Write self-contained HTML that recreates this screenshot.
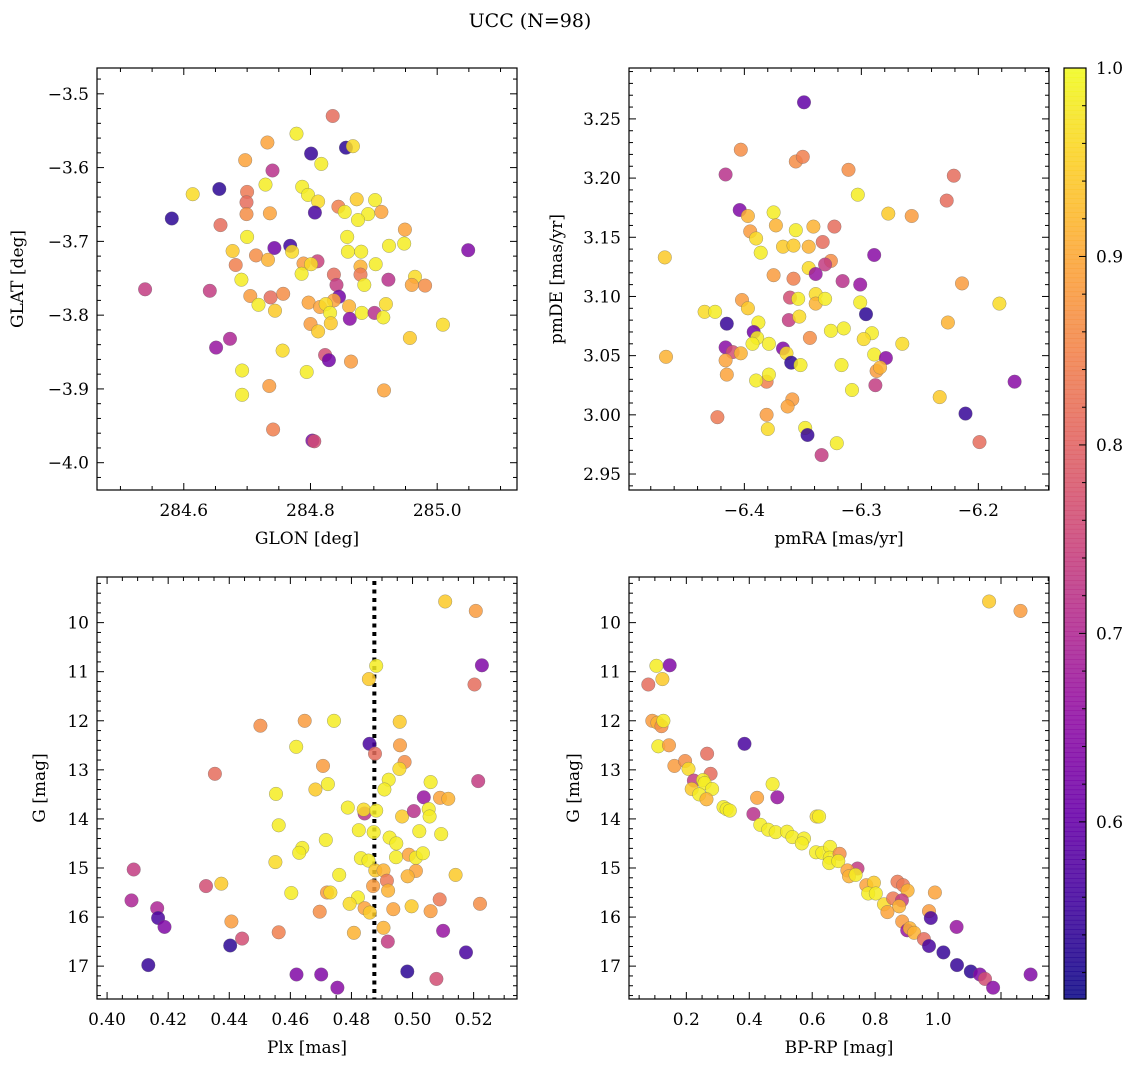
<!DOCTYPE html>
<html><head><meta charset="utf-8"><style>
html,body{margin:0;padding:0;background:#fff;}
svg{display:block;font-family:"DejaVu Serif","Liberation Serif",serif;}
</style></head><body>
<svg id="fig" width="1136" height="1067" viewBox="0 0 1136 1067" xmlns="http://www.w3.org/2000/svg">
<text x="530" y="27" text-anchor="middle" font-size="19">UCC (N=98)</text>
</svg>
<script>
// ---- Panel 1: GLON / GLAT ----
const glonVals=[284.835,284.778,284.732,284.856,284.867,284.801,284.817,284.697,284.740,284.729,284.656,284.614,284.700,284.787,284.796,284.812,284.699,284.699,284.736,284.807,284.844,284.854,284.873,284.902,284.891,284.875,284.912,284.581,284.658,284.949,284.700,284.858,284.924,284.948,285.049,284.743,284.768,284.771,284.677,284.714,284.733,284.859,284.880,284.682,284.789,284.811,284.801,284.786,284.879,284.903,284.879,284.837,284.841,284.885,284.923,284.965,284.960,284.981,284.539,284.641,284.691,284.705,284.718,284.737,284.757,284.744,284.845,284.837,284.797,284.815,284.824,284.831,284.861,284.862,284.881,284.901,284.919,284.915,284.800,284.812,284.832,285.009,284.957,284.673,284.651,284.756,284.823,284.829,284.864,284.794,284.692,284.735,284.916,284.692,284.741,284.803,284.806];
const glatVals=[-3.530,-3.554,-3.566,-3.573,-3.571,-3.581,-3.595,-3.590,-3.604,-3.623,-3.629,-3.636,-3.633,-3.626,-3.637,-3.646,-3.647,-3.663,-3.662,-3.661,-3.653,-3.660,-3.643,-3.644,-3.663,-3.671,-3.660,-3.669,-3.678,-3.684,-3.694,-3.694,-3.706,-3.703,-3.712,-3.709,-3.706,-3.714,-3.713,-3.719,-3.725,-3.714,-3.714,-3.732,-3.730,-3.727,-3.731,-3.744,-3.734,-3.731,-3.745,-3.745,-3.759,-3.759,-3.752,-3.748,-3.759,-3.760,-3.765,-3.767,-3.752,-3.774,-3.786,-3.776,-3.771,-3.794,-3.775,-3.780,-3.783,-3.789,-3.785,-3.797,-3.788,-3.805,-3.797,-3.797,-3.785,-3.803,-3.812,-3.822,-3.811,-3.813,-3.831,-3.832,-3.844,-3.848,-3.854,-3.861,-3.863,-3.877,-3.875,-3.896,-3.902,-3.908,-3.955,-3.970,-3.971];
const probP1=[.80,.97,.88,.52,.95,.53,.97,.88,.70,.97,.52,.95,.82,.97,.97,.95,.80,.85,.88,.55,.83,.97,.93,.97,.97,.97,.88,.52,.80,.88,.97,.97,.97,.97,.62,.60,.54,.95,.93,.85,.90,.97,.97,.83,.87,.73,.95,.97,.90,.97,.82,.80,.72,.97,.70,.95,.88,.85,.72,.72,.97,.87,.97,.80,.85,.93,.60,.88,.88,.88,.95,.97,.90,.63,.97,.70,.95,.97,.87,.93,.93,.95,.93,.68,.65,.95,.75,.60,.87,.97,.97,.87,.88,.97,.83,.62,.75];
// ---- Panel 2: pmRA / pmDE ----
const pmraVals=[-6.349,-6.403,-6.356,-6.350,-6.311,-6.416,-6.221,-6.303,-6.227,-6.404,-6.375,-6.277,-6.257,-6.397,-6.373,-6.356,-6.341,-6.323,-6.395,-6.390,-6.333,-6.367,-6.358,-6.345,-6.386,-6.289,-6.468,-6.326,-6.331,-6.345,-6.339,-6.375,-6.358,-6.316,-6.301,-6.214,-6.361,-6.354,-6.339,-6.339,-6.331,-6.402,-6.397,-6.434,-6.425,-6.301,-6.182,-6.296,-6.415,-6.388,-6.362,-6.353,-6.226,-6.392,-6.344,-6.326,-6.315,-6.389,-6.291,-6.298,-6.265,-6.393,-6.379,-6.416,-6.410,-6.403,-6.367,-6.364,-6.467,-6.416,-6.360,-6.289,-6.279,-6.352,-6.317,-6.287,-6.284,-6.415,-6.381,-6.379,-6.390,-6.288,-6.308,-6.169,-6.359,-6.363,-6.233,-6.211,-6.423,-6.381,-6.380,-6.348,-6.346,-6.199,-6.321,-6.334];
const pmdeVals=[3.264,3.224,3.214,3.218,3.207,3.203,3.202,3.186,3.181,3.173,3.171,3.170,3.168,3.168,3.160,3.156,3.159,3.159,3.155,3.149,3.146,3.142,3.143,3.142,3.137,3.135,3.133,3.130,3.127,3.124,3.119,3.118,3.115,3.113,3.110,3.111,3.099,3.098,3.102,3.094,3.098,3.097,3.090,3.087,3.087,3.095,3.094,3.085,3.077,3.078,3.080,3.083,3.078,3.070,3.065,3.071,3.073,3.065,3.069,3.064,3.060,3.060,3.060,3.057,3.053,3.052,3.056,3.052,3.049,3.046,3.044,3.051,3.048,3.042,3.042,3.037,3.040,3.034,3.028,3.034,3.029,3.025,3.021,3.028,3.013,3.007,3.015,3.001,2.998,3.000,2.988,2.989,2.983,2.977,2.976,2.966];
const probP2=[.58,.85,.85,.83,.85,.70,.80,.97,.80,.62,.97,.93,.87,.90,.90,.97,.90,.80,.87,.95,.80,.93,.93,.90,.97,.63,.93,.85,.72,.95,.65,.87,.83,.70,.65,.87,.75,.97,.95,.90,.97,.87,.93,.95,.97,.97,.95,.52,.53,.97,.72,.95,.90,.60,.85,.97,.97,.97,.97,.95,.95,.97,.97,.63,.75,.90,.62,.95,.90,.88,.52,.97,.63,.97,.97,.87,.90,.88,.83,.97,.97,.72,.97,.63,.87,.88,.93,.53,.82,.87,.95,.97,.53,.80,.97,.72];
// ---- Panel 3: Plx / G ----
const plxVals=[0.5107,0.5207,0.4881,0.4857,0.5227,0.5203,0.4502,0.4647,0.4743,0.4958,0.4619,0.4859,0.4877,0.4959,0.4974,0.4957,0.4707,0.4353,0.4723,0.4682,0.4922,0.4908,0.5059,0.5215,0.4553,0.5037,0.5090,0.5117,0.4788,0.4843,0.4840,0.4881,0.4966,0.5004,0.5053,0.5056,0.4562,0.4824,0.4873,0.4925,0.4947,0.5022,0.5094,0.4716,0.4639,0.4629,0.4551,0.4831,0.4856,0.4946,0.4988,0.5011,0.5034,0.4087,0.4878,0.4905,0.5011,0.4984,0.5141,0.4760,0.4916,0.4324,0.4374,0.4871,0.4920,0.4603,0.4720,0.4731,0.4821,0.4794,0.4080,0.4164,0.5089,0.5221,0.4843,0.4860,0.4937,0.4997,0.5059,0.4696,0.4167,0.4188,0.4407,0.4905,0.5100,0.4562,0.4808,0.4442,0.4919,0.4403,0.5175,0.4135,0.4620,0.4701,0.4983,0.5078,0.4754];
const gPlxVals=[9.57,9.76,10.88,11.15,10.87,11.26,12.10,12.00,12.00,12.02,12.53,12.47,12.67,12.50,12.84,12.98,12.92,13.08,13.29,13.40,13.20,13.40,13.25,13.23,13.49,13.56,13.57,13.59,13.77,13.89,13.81,13.83,13.95,13.84,13.80,13.95,14.13,14.23,14.27,14.38,14.50,14.25,14.31,14.43,14.59,14.69,14.88,14.80,14.85,14.78,14.73,14.79,14.70,15.03,15.05,15.05,15.06,15.17,15.14,15.14,15.26,15.37,15.32,15.37,15.46,15.51,15.50,15.50,15.60,15.73,15.66,15.82,15.64,15.73,15.82,15.91,15.84,15.78,15.88,15.89,16.02,16.20,16.09,16.22,16.28,16.31,16.32,16.44,16.50,16.58,16.72,16.98,17.17,17.17,17.11,17.26,17.44];
const probP3=[.93,.87,.97,.93,.62,.80,.85,.87,.97,.93,.97,.55,.80,.87,.85,.95,.87,.80,.97,.93,.97,.97,.97,.72,.97,.65,.88,.90,.97,.70,.95,.97,.93,.70,.97,.97,.97,.97,.97,.97,.97,.97,.97,.97,.97,.97,.95,.97,.97,.97,.88,.97,.97,.72,.93,.90,.88,.90,.93,.97,.82,.75,.93,.87,.90,.97,.87,.95,.97,.95,.68,.68,.82,.85,.88,.93,.88,.93,.87,.85,.55,.62,.87,.90,.65,.83,.90,.75,.72,.52,.55,.53,.62,.62,.52,.75,.63];
const plxMean=[0.4875];
// ---- Panel 4: BP-RP / G ----
const bprpVals=[1.162,1.262,0.105,0.147,0.124,0.079,0.092,0.108,0.121,0.127,0.111,0.145,0.385,0.266,0.162,0.196,0.207,0.277,0.224,0.253,0.258,0.282,0.217,0.241,0.264,0.474,0.425,0.489,0.318,0.328,0.338,0.413,0.614,0.622,0.435,0.460,0.484,0.520,0.537,0.574,0.567,0.612,0.632,0.657,0.656,0.654,0.687,0.683,0.744,0.712,0.717,0.738,0.772,0.796,0.778,0.802,0.828,0.871,0.889,0.903,0.990,0.857,0.885,0.876,0.839,0.971,0.977,0.886,0.902,0.910,0.924,1.059,0.955,0.971,1.017,1.060,1.104,1.133,1.149,1.175,1.294];
const gCmdVals=[9.57,9.76,10.88,10.87,11.15,11.26,12.00,12.04,12.11,12.00,12.52,12.50,12.47,12.67,12.92,12.82,12.98,13.08,13.22,13.21,13.27,13.39,13.39,13.50,13.60,13.29,13.57,13.56,13.76,13.80,13.83,13.90,13.95,13.95,14.12,14.22,14.27,14.26,14.37,14.40,14.50,14.68,14.69,14.57,14.79,14.90,14.71,14.86,15.01,15.05,15.17,15.14,15.35,15.30,15.52,15.52,15.74,15.28,15.35,15.46,15.50,15.62,15.66,15.78,15.90,15.88,16.02,16.09,16.27,16.23,16.32,16.20,16.45,16.59,16.72,16.98,17.11,17.17,17.26,17.44,17.17];
const probP4=[.93,.87,.97,.62,.93,.80,.87,.90,.85,.97,.97,.87,.55,.80,.87,.85,.95,.80,.72,.97,.97,.97,.93,.97,.90,.97,.88,.65,.97,.97,.97,.70,.95,.97,.97,.97,.97,.97,.97,.97,.97,.97,.97,.97,.97,.97,.85,.97,.72,.88,.90,.97,.88,.93,.97,.97,.95,.82,.82,.90,.88,.82,.72,.90,.88,.87,.55,.87,.65,.90,.90,.65,.80,.55,.53,.53,.52,.62,.75,.63,.62];
// ---- colorbar ----
const cbarTicks=[0.6,0.7,0.8,0.9,1.0];
const cbarRange=[0.506,1.0];

const NS="http://www.w3.org/2000/svg";
const svg=document.getElementById('fig');
function mk(tag,attrs,parent){const e=document.createElementNS(NS,tag);for(const k in attrs)e.setAttribute(k,attrs[k]);(parent||svg).appendChild(e);return e;}
const plasma=[[13,8,135],[65,4,157],[106,0,168],[143,13,164],[177,42,144],[204,71,120],[225,100,98],[242,132,75],[252,166,54],[252,206,37],[240,249,33]];
function cmap(t){t=Math.max(0,Math.min(1,t));const f=t*10,i=Math.min(9,Math.floor(f)),u=f-i;const a=plasma[i],b=plasma[i+1];return 'rgb('+[0,1,2].map(k=>Math.round(a[k]+(b[k]-a[k])*u)).join(',')+')';}
function pcol(p){return cmap((p-cbarRange[0])/(cbarRange[1]-cbarRange[0])+0.03);}
function fmtNum(v,d){const s=Math.abs(v).toFixed(d);return (v<0?'\u2212':'')+s;}

function panel(c){
  const g=mk('g',{});
  
  
  const sx=v=>c.x0+(v-c.xl)/(c.xr-c.xl)*c.w;
  const sy=v=>c.y0+(v-c.yt)/(c.yb-c.yt)*c.h;
  if(c.vline){const ln=mk('line',{x1:sx(c.vline[0]),x2:sx(c.vline[0]),y1:c.y0+4,y2:c.y0+c.h,stroke:'#000','stroke-width':4,'stroke-dasharray':'4 4.5'},g);
    }
  for(let i=0;i<c.xs.length;i++){
    const pt=mk('circle',{cx:sx(c.xs[i]).toFixed(1),cy:sy(c.ys[i]).toFixed(1),r:6.8,fill:pcol(c.ps[i]),'fill-opacity':0.85,stroke:'#666','stroke-opacity':0.6,'stroke-width':0.5},g);
    
    
  }
  const fr=mk('rect',{x:c.x0,y:c.y0,width:c.w,height:c.h,fill:'none',stroke:'#000','stroke-width':1.2},g);
  
  function ticks(lo,hi,step){const a=[];const s=Math.ceil(Math.min(lo,hi)/step-1e-6),e=Math.floor(Math.max(lo,hi)/step+1e-6);for(let k=s;k<=e;k++)a.push(+(k*step).toFixed(6));return a;}
  const isMaj=(v,arr)=>arr.some(m=>Math.abs(m-v)<1e-6);
  const xMaj=ticks(c.xl,c.xr,c.xMajStep),xMin=ticks(c.xl,c.xr,c.xMinStep);
  const yMaj=ticks(c.yt,c.yb,c.yMajStep),yMin=ticks(c.yt,c.yb,c.yMinStep);
  for(const v of xMin){const L=isMaj(v,xMaj)?7:4,x=sx(v);
    mk('line',{x1:x,x2:x,y1:c.y0+c.h,y2:c.y0+c.h-L,stroke:'#000','stroke-width':1},g);
    mk('line',{x1:x,x2:x,y1:c.y0,y2:c.y0+L,stroke:'#000','stroke-width':1},g);}
  for(const v of yMin){const L=isMaj(v,yMaj)?7:4,y=sy(v);
    mk('line',{x1:c.x0,x2:c.x0+L,y1:y,y2:y,stroke:'#000','stroke-width':1},g);
    mk('line',{x1:c.x0+c.w,x2:c.x0+c.w-L,y1:y,y2:y,stroke:'#000','stroke-width':1},g);}
  for(const v of c.xLabels){const t=mk('text',{x:sx(v),y:c.y0+c.h+26,'text-anchor':'middle','font-size':17},g);t.textContent=fmtNum(v,c.xDec);
    }
  for(const v of c.yLabels){const t=mk('text',{x:c.x0-8,y:sy(v)+6,'text-anchor':'end','font-size':17},g);t.textContent=fmtNum(v,c.yDec);
    }
  const xt=mk('text',{x:c.x0+c.w/2,y:c.y0+c.h+54,'text-anchor':'middle','font-size':17},g);xt.textContent=c.xTitle;
  
  const yt=mk('text',{x:0,y:0,'text-anchor':'middle','font-size':17,transform:'translate('+c.yTitleX+','+(c.y0+c.h/2)+') rotate(-90)'},g);yt.textContent=c.yTitle;
  
}
panel({name:'glon-glat-panel',x0:97,y0:68,w:420,h:422,xl:284.463,xr:285.126,yt:-3.465,yb:-4.037,xs:glonVals,ys:glatVals,ps:probP1,
  xMajStep:0.2,xMinStep:0.05,yMajStep:0.1,yMinStep:0.02,xLabels:[284.6,284.8,285.0],xDec:1,yLabels:[-3.5,-3.6,-3.7,-3.8,-3.9,-4.0],yDec:1,xTitle:'GLON [deg]',yTitle:'GLAT [deg]',yTitleX:23});
panel({name:'pm-panel',x0:629,y0:68,w:420,h:422,xl:-6.4986,xr:-6.1396,yt:3.293,yb:2.9365,xs:pmraVals,ys:pmdeVals,ps:probP2,
  xMajStep:0.1,xMinStep:0.02,yMajStep:0.05,yMinStep:0.01,xLabels:[-6.4,-6.3,-6.2],xDec:1,yLabels:[3.25,3.2,3.15,3.1,3.05,3.0,2.95],yDec:2,xTitle:'pmRA [mas/yr]',yTitle:'pmDE [mas/yr]',yTitleX:562});
panel({name:'plx-g-panel',x0:97,y0:577,w:420,h:422,xl:0.3967,xr:0.5342,yt:9.07,yb:17.67,xs:plxVals,ys:gPlxVals,ps:probP3,vline:plxMean,
  xMajStep:0.02,xMinStep:0.005,yMajStep:1,yMinStep:0.2,xLabels:[0.40,0.42,0.44,0.46,0.48,0.50,0.52],xDec:2,yLabels:[10,11,12,13,14,15,16,17],yDec:0,xTitle:'Plx [mas]',yTitle:'G [mag]',yTitleX:45});
panel({name:'cmd-panel',x0:629,y0:577,w:420,h:422,xl:0.0178,xr:1.3525,yt:9.07,yb:17.67,xs:bprpVals,ys:gCmdVals,ps:probP4,
  xMajStep:0.2,xMinStep:0.05,yMajStep:1,yMinStep:0.2,xLabels:[0.2,0.4,0.6,0.8,1.0],xDec:1,yLabels:[10,11,12,13,14,15,16,17],yDec:0,xTitle:'BP-RP [mag]',yTitle:'G [mag]',yTitleX:579});

(function(){
  const g=mk('g',{});
  
  
  const x0=1064,w=22,yTop=68,yBot=999,N=200;
  const cy=v=>yBot-(v-cbarRange[0])/(cbarRange[1]-cbarRange[0])*(yBot-yTop);
  for(let i=0;i<N;i++){const v0=cbarRange[0]+(cbarRange[1]-cbarRange[0])*i/N,v1=cbarRange[0]+(cbarRange[1]-cbarRange[0])*(i+1)/N;
    mk('rect',{x:x0,y:cy(v1),width:w,height:cy(v0)-cy(v1)+0.6,fill:cmap(i/(N-1)),'fill-opacity':0.88},g);}
  mk('rect',{x:x0,y:yTop,width:w,height:yBot-yTop,fill:'none',stroke:'#000','stroke-width':1.2},g);
  for(let k=Math.ceil(cbarRange[0]/0.02);k*0.02<=cbarRange[1]+1e-6;k++){const v=+(k*0.02).toFixed(3);const maj=cbarTicks.some(m=>Math.abs(m-v)<1e-6);const y=cy(v);
    mk('line',{x1:x0+w,x2:x0+w-(maj?7:4),y1:y,y2:y,stroke:'#000','stroke-width':1},g);}
  for(const v of cbarTicks){const t=mk('text',{x:1096,y:cy(v)+6,'font-size':17},g);t.textContent=v.toFixed(1);
    }
})();
</script>
</body></html>
